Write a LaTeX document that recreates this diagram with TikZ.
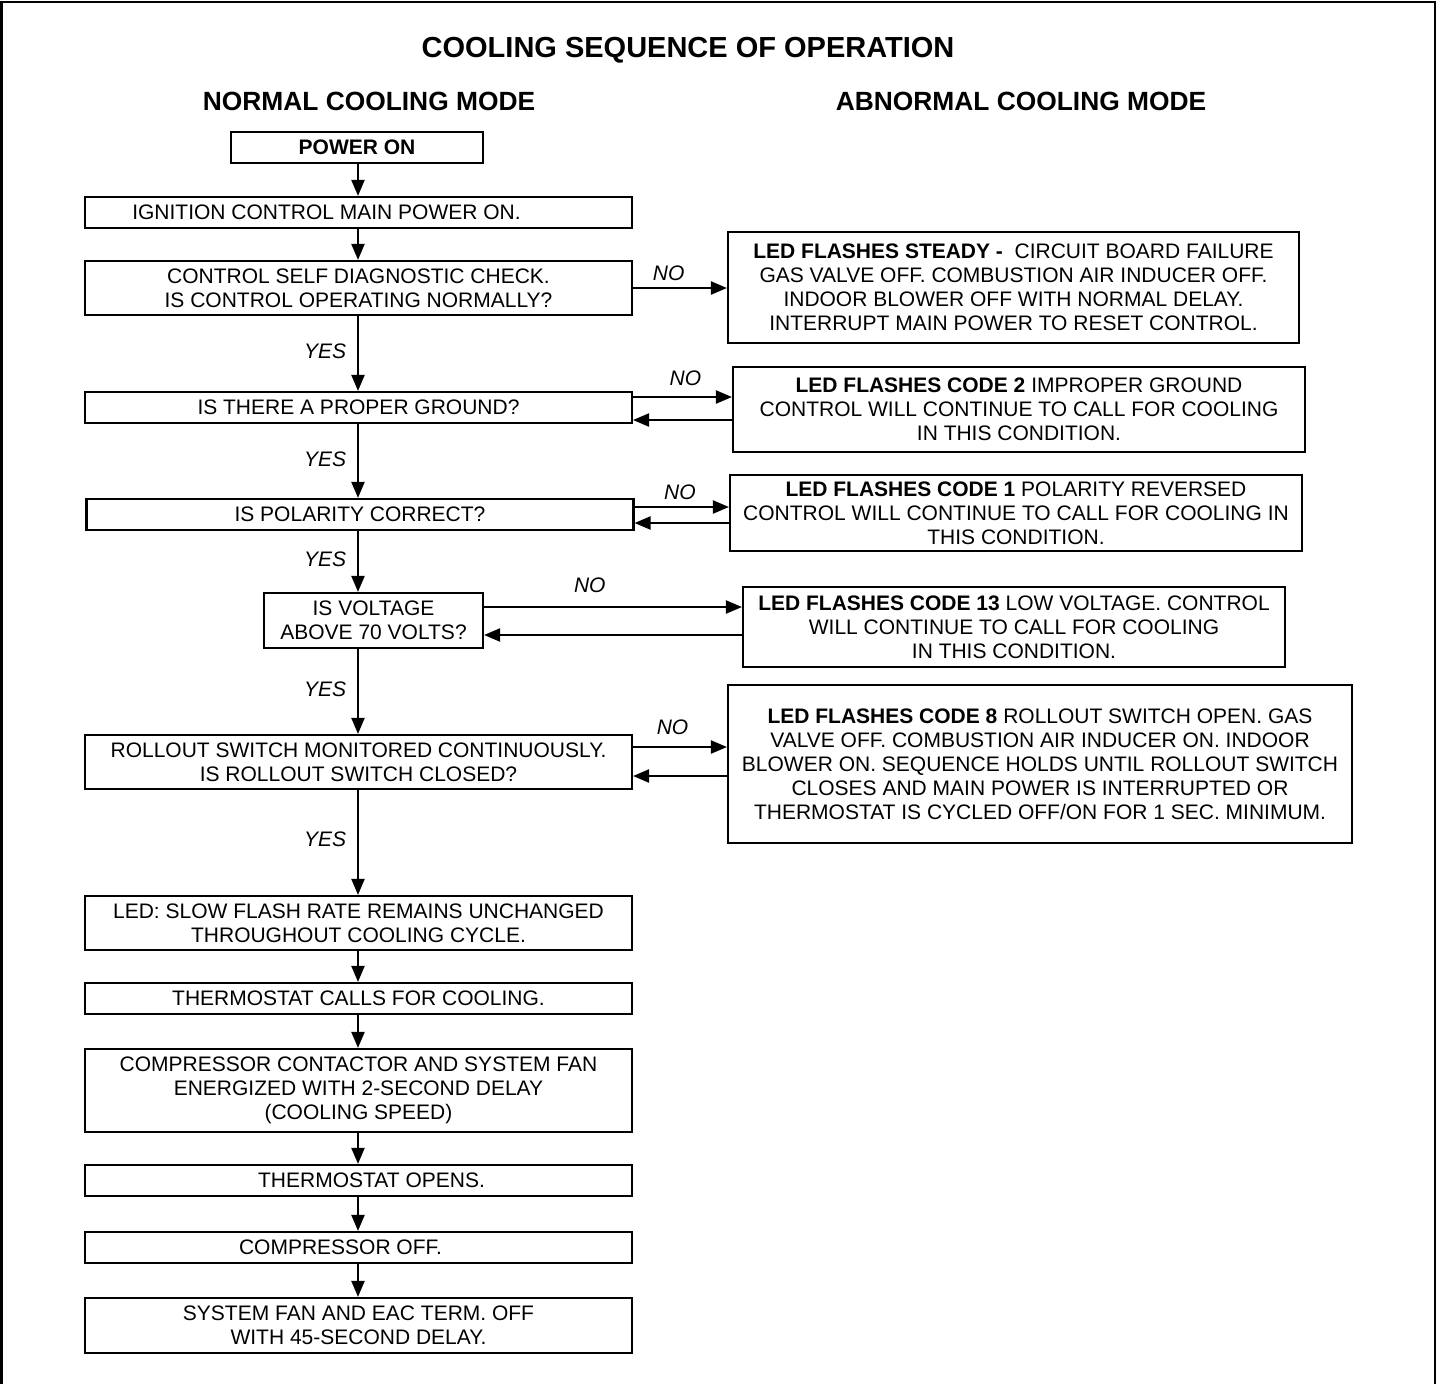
\documentclass[tikz,border=0pt]{standalone}
\usepackage{fontspec}
\setmainfont{Liberation Sans}
\usetikzlibrary{arrows.meta}

\begin{document}
\begin{tikzpicture}[x=0.02cm, y=-0.02cm,
    every node/.style={font=\fontsize{11.95}{13.66}\selectfont},
    caja/.style={draw, line width=1.25pt, align=center, inner sep=0pt, minimum width=10.94cm},
    aviso/.style={draw, line width=1.25pt, align=center, inner sep=0pt},
    flecha/.style={line width=1.2pt, -{Triangle[length=0.32cm, width=0.26cm]}},
    etiq/.style={font=\fontsize{11.95}{13.66}\selectfont\itshape}]
    % Marco y titulos
    \useasboundingbox (0,0) rectangle (1437,1384);
    \draw[line width=1.5pt] (1.5,1384) -- (1.5,2) -- (1435,2) -- (1435,1384);
    \node[font=\fontsize{16.5}{20}\selectfont\bfseries] (titulo) at (688,50) {COOLING SEQUENCE OF OPERATION};
    \node[font=\fontsize{15}{18}\selectfont\bfseries] (normal) at (369,101) {NORMAL COOLING MODE};
    \node[font=\fontsize{15}{18}\selectfont\bfseries] (anormal) at (1021,101) {ABNORMAL COOLING MODE};

    % Columna del modo normal
    \coordinate (eje) at (358,0);
    \node[caja, minimum width=5.04cm, minimum height=0.62cm] (encendido) at (357,147.5) {\bfseries POWER ON};
    \node[caja, minimum height=0.62cm] (ignicion) at (358.5,212.5) {IGNITION CONTROL MAIN POWER ON.\hspace*{1.28cm}};
    \node[caja, minimum height=1.08cm] (diagnostico) at (358.5,288) {CONTROL SELF DIAGNOSTIC CHECK.\\IS CONTROL OPERATING NORMALLY?};
    \node[caja, minimum height=0.62cm] (tierra) at (358.5,407.5) {IS THERE A PROPER GROUND?};
    \node[caja, minimum height=0.62cm] (polaridad) at (360,514.5) {IS POLARITY CORRECT?};
    \node[caja, minimum width=4.38cm, minimum height=1.1cm] (voltaje) at (373.5,620.5) {IS VOLTAGE\\ABOVE 70 VOLTS?};
    \node[caja, minimum height=1.08cm] (rollout) at (358.5,762) {ROLLOUT SWITCH MONITORED CONTINUOUSLY.\\IS ROLLOUT SWITCH CLOSED?};
    \node[caja, minimum height=1.08cm] (led) at (358.5,923) {LED: SLOW FLASH RATE REMAINS UNCHANGED\\THROUGHOUT COOLING CYCLE.};
    \node[caja, minimum height=0.62cm] (llamada) at (358.5,998.5) {THERMOSTAT CALLS FOR COOLING.};
    \node[caja, minimum height=1.66cm] (compresor) at (358.5,1090.5) {COMPRESSOR CONTACTOR AND SYSTEM FAN\\ENERGIZED WITH 2-SECOND DELAY\\(COOLING SPEED)};
    \node[caja, minimum height=0.62cm] (abre) at (358.5,1180.5) {\hspace*{0.52cm}THERMOSTAT OPENS.};
    \node[caja, minimum height=0.62cm] (apagado) at (358.5,1247.5) {COMPRESSOR OFF.\hspace*{0.72cm}};
    \node[caja, minimum height=1.1cm] (ventilador) at (358.5,1325.5) {SYSTEM FAN AND EAC TERM. OFF\\WITH 45-SECOND DELAY.};

    % Columna del modo anormal
    \node[aviso, minimum width=11.42cm, minimum height=2.22cm] (fallo) at (1013.5,287.5) {\textbf{LED FLASHES STEADY -}\ \ CIRCUIT BOARD FAILURE\\GAS VALVE OFF. COMBUSTION AIR INDUCER OFF.\\INDOOR BLOWER OFF WITH NORMAL DELAY.\\INTERRUPT MAIN POWER TO RESET CONTROL.};
    \node[aviso, minimum width=11.44cm, minimum height=1.7cm] (codigodos) at (1019,409.5) {\textbf{LED FLASHES CODE 2} IMPROPER GROUND\\CONTROL WILL CONTINUE TO CALL FOR COOLING\\IN THIS CONDITION.};
    \node[aviso, minimum width=11.44cm, minimum height=1.52cm] (codigouno) at (1016,513) {\textbf{LED FLASHES CODE 1} POLARITY REVERSED\\CONTROL WILL CONTINUE TO CALL FOR COOLING IN\\THIS CONDITION.};
    \node[aviso, minimum width=10.84cm, minimum height=1.6cm] (codigotrece) at (1014,627) {\textbf{LED FLASHES CODE 13} LOW VOLTAGE. CONTROL\\WILL CONTINUE TO CALL FOR COOLING\\IN THIS CONDITION.};
    \node[aviso, minimum width=12.48cm, minimum height=3.16cm] (codigoocho) at (1040,764) {\textbf{LED FLASHES CODE 8} ROLLOUT SWITCH OPEN. GAS\\VALVE OFF. COMBUSTION AIR INDUCER ON. INDOOR\\BLOWER ON. SEQUENCE HOLDS UNTIL ROLLOUT SWITCH\\CLOSES AND MAIN POWER IS INTERRUPTED OR\\THERMOSTAT IS CYCLED OFF/ON FOR 1 SEC. MINIMUM.};

    % Flechas verticales
    \foreach \a/\b in {encendido/ignicion, ignicion/diagnostico, led/llamada, llamada/compresor, compresor/abre, abre/apagado, apagado/ventilador}
        \draw[flecha] (\a.south -| eje) -- (\b.north -| eje);
    \foreach \a/\b in {diagnostico/tierra, tierra/polaridad, polaridad/voltaje, voltaje/rollout, rollout/led}
        \draw[flecha] (\a.south -| eje) -- node[etiq, left, xshift=-0.1cm, pos=0.47] {YES} (\b.north -| eje);

    % Flechas horizontales (NO y retorno)
    \draw[flecha] (diagnostico.east) -- node[etiq, above, pos=0.38] {NO} (diagnostico.east -| fallo.west);
    \draw[flecha] ([yshift=0.21cm]tierra.east) -- node[etiq, above, pos=0.53, yshift=0.08cm] {NO} ([yshift=0.21cm]tierra.east -| codigodos.west);
    \draw[flecha] ([yshift=-0.25cm]tierra.east -| codigodos.west) -- ([yshift=-0.25cm]tierra.east);
    \draw[flecha] ([yshift=0.15cm]polaridad.east) -- node[etiq, above, pos=0.48] {NO} ([yshift=0.15cm]polaridad.east -| codigouno.west);
    \draw[flecha] ([yshift=-0.17cm]polaridad.east -| codigouno.west) -- ([yshift=-0.17cm]polaridad.east);
    \draw[flecha] ([yshift=0.27cm]voltaje.east) -- node[etiq, above, pos=0.41, yshift=0.15cm] {NO} ([yshift=0.27cm]voltaje.east -| codigotrece.west);
    \draw[flecha] ([yshift=-0.29cm]voltaje.east -| codigotrece.west) -- ([yshift=-0.29cm]voltaje.east);
    \draw[flecha] ([yshift=0.3cm]rollout.east) -- node[etiq, above, pos=0.42, yshift=0.1cm] {NO} ([yshift=0.3cm]rollout.east -| codigoocho.west);
    \draw[flecha] ([yshift=-0.28cm]rollout.east -| codigoocho.west) -- ([yshift=-0.28cm]rollout.east);
  \end{tikzpicture}
\end{document}
